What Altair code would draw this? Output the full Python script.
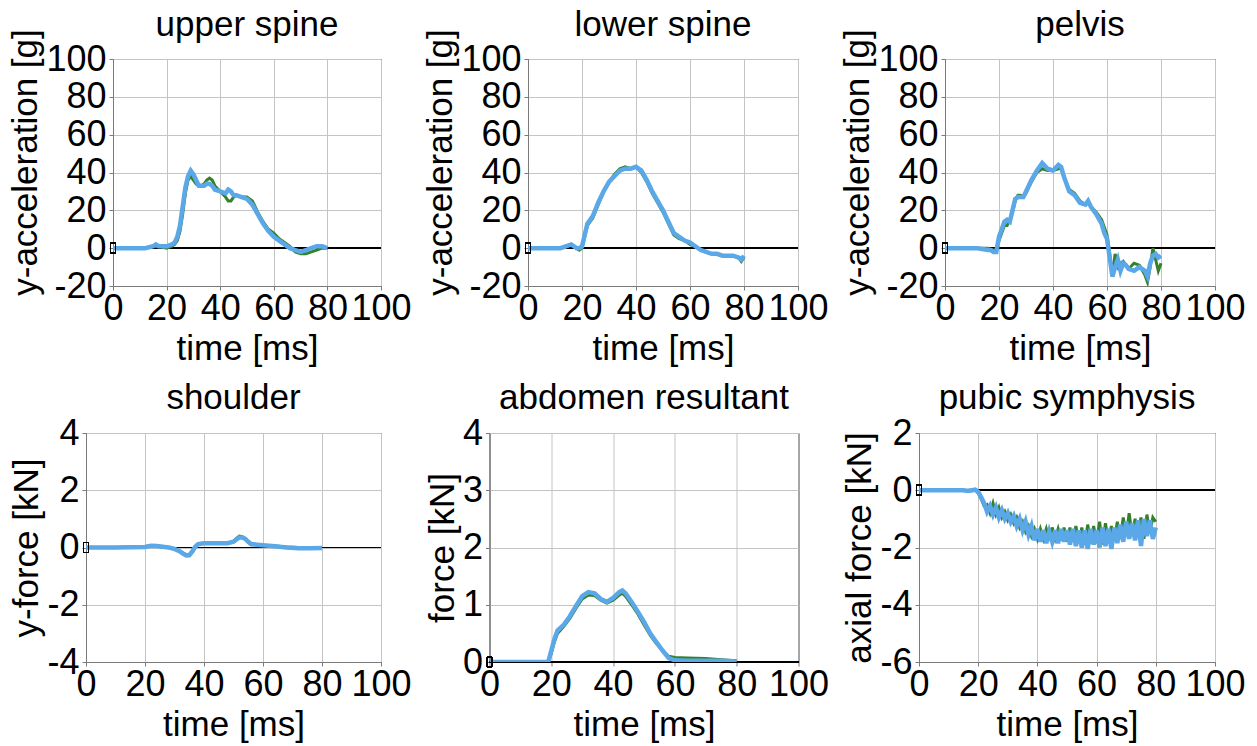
import altair as alt
import pandas as pd

FONT = "Liberation Sans"
GREEN = "#35802a"
BLUE = "#5aa8e8"

# ---------------- data ----------------
x_ticks = [0, 20, 40, 60, 80, 100]

# upper spine
t_upper = [0, 4, 8, 12, 15, 16, 17, 20, 22, 23, 24, 25, 26, 27, 28, 29, 30, 31, 32, 33,
           34, 35, 36, 37, 38, 40, 42, 43, 44, 45, 46, 48, 50, 52, 54, 56, 58, 60, 62, 64,
           66, 68, 70, 72, 74, 76, 78, 80]
upper_blue = [0, 0, 0, 0, 1, 2, 1, 1, 2, 3, 6, 12, 22, 32, 38, 41, 39, 36, 33, 33,
              33, 34, 34, 33, 31, 30, 29, 31, 30, 28, 28, 27, 26, 23, 18, 13, 9, 6, 4, 2,
              0, -1, -2, -1, 0, 1, 1, 0]
upper_green = [0, 0, 0, 0, 1, 1, 1, 0, 1, 2, 4, 9, 18, 29, 36, 38, 36, 34, 33, 33,
               34, 36, 37, 36, 33, 30, 27, 25, 25, 27, 28, 27, 27, 25, 19, 14, 10, 8, 5, 3,
               1, -2, -3, -3, -2, -1, 0, 0]

# lower spine
t_lower = [0, 4, 8, 12, 14, 16, 17, 18, 19, 20, 21, 22, 24, 26, 28, 30, 32, 34, 36, 38,
           40, 42, 44, 46, 48, 50, 52, 54, 56, 58, 60, 62, 64, 66, 68, 70, 72, 74, 76, 78,
           79, 80]
lower_blue = [0, 0, 0, 0, 1, 2, 1, 0, 0, 1, 7, 13, 17, 24, 30, 35, 38, 41, 42, 42,
              43, 41, 36, 30, 25, 20, 14, 8, 6, 4, 3, 1, -1, -2, -3, -3, -4, -4, -4, -5,
              -6, -4]
lower_green = [0, 0, 0, 0, 1, 2, 1, 0, -1, 0, 6, 12, 16, 23, 30, 35, 39, 42, 43, 42,
               43, 40, 35, 29, 24, 19, 13, 7, 5, 4, 2, 1, -1, -2, -3, -3, -4, -4, -4, -5,
               -7, -5]

# pelvis
t_pelvis = [0, 4, 8, 12, 16, 17, 18, 19, 20, 21, 22, 23, 24, 25, 26, 27, 28, 29, 30, 32,
            34, 36, 38, 40, 42, 43, 44, 46, 48, 50, 52, 53, 54, 56, 58, 59, 60, 61, 62, 63,
            64, 65, 66, 67, 68, 70, 72, 74, 75, 76, 77, 78, 79, 80]
pelvis_blue = [0, 0, 0, 0, -1, -1, -2, -2, 6, 10, 14, 15, 14, 20, 26, 27, 27, 27, 30, 36,
               41, 45, 42, 41, 44, 43, 38, 30, 28, 24, 23, 25, 22, 18, 13, 8, 5, -5, -15, -10,
               -6, -12, -8, -9, -11, -12, -10, -12, -15, -8, -4, -3, -5, -4]
pelvis_green = [0, 0, 0, 0, 0, -1, -1, -1, 4, 8, 12, 12, 15, 19, 25, 28, 28, 27, 29, 35,
                40, 42, 41, 41, 42, 42, 38, 31, 29, 25, 23, 24, 22, 19, 15, 11, 7, -3, -15, -3,
                -10, -8, -7, -9, -11, -8, -9, -14, -18, -10, 0, -6, -12, -8]

# shoulder
t_shoulder = [0, 10, 20, 22, 24, 28, 30, 32, 33, 34, 35, 36, 37, 38, 40, 44, 48, 50, 51, 52,
              53, 54, 55, 56, 58, 60, 64, 68, 72, 76, 80]
shoulder_blue = [0, 0, 0.02, 0.06, 0.05, 0.0, -0.05, -0.15, -0.22, -0.28,
                 -0.27, -0.15, 0.02, 0.12, 0.15, 0.15, 0.15, 0.2, 0.28, 0.35,
                 0.35, 0.3, 0.2, 0.12, 0.1, 0.08, 0.04, 0.0, -0.03, -0.03, -0.02]
shoulder_green = [0, 0, 0.03, 0.07, 0.05, 0.0, -0.05, -0.13, -0.2, -0.25,
                  -0.24, -0.12, 0.03, 0.13, 0.15, 0.16, 0.16, 0.22, 0.32, 0.4,
                  0.38, 0.3, 0.18, 0.1, 0.1, 0.08, 0.05, 0.02, 0.0, -0.01, -0.01]

# abdomen resultant
t_abdomen = [0, 10, 19, 20, 21, 22, 24, 26, 28, 30, 32, 34, 36, 38, 40, 42, 43, 44, 46, 48,
             50, 52, 54, 56, 58, 60, 64, 70, 75, 80]
abdomen_blue = [0, 0, 0, 0.2, 0.4, 0.55, 0.65, 0.8, 0.98, 1.15,
                1.22, 1.2, 1.1, 1.05, 1.12, 1.22, 1.25, 1.2, 1.05, 0.88,
                0.7, 0.5, 0.35, 0.2, 0.07, 0.03, 0.02, 0.02, 0.02, 0.01]
abdomen_green = [0, 0, 0, 0.15, 0.35, 0.5, 0.62, 0.76, 0.94, 1.1,
                 1.17, 1.16, 1.08, 1.03, 1.08, 1.17, 1.2, 1.15, 1.0, 0.84,
                 0.65, 0.47, 0.32, 0.2, 0.1, 0.08, 0.07, 0.06, 0.04, 0.02]

# pubic symphysis (1 ms samples, 0..80)
t_pubic = list(range(0, 81))
pubic_blue = [0, 0, 0, 0, 0, 0, 0, 0, 0, 0,
              0, 0, 0, 0, 0, 0, -0.02, -0.02, 0, 0.02,
              -0.05, -0.25, -0.45, -0.75, -0.55, -0.85, -0.6, -0.95, -0.7, -1.0,
              -0.8, -1.1, -0.9, -1.25, -1.0, -1.4, -1.1, -1.55, -1.25, -1.75,
              -1.35, -1.8, -1.4, -1.85, -1.45, -1.8, -1.4, -1.85, -1.35, -1.8,
              -1.4, -1.9, -1.35, -1.95, -1.4, -2.0, -1.4, -2.05, -1.35, -1.9,
              -1.4, -2.0, -1.3, -1.95, -1.35, -2.05, -1.3, -1.85, -1.2, -1.8,
              -1.1, -1.7, -1.15, -1.75, -1.05, -1.95, -1.0, -1.6, -1.05, -1.7,
              -1.3]
pubic_green = [0, 0, 0, 0, 0, 0, 0, 0, 0, 0,
               0, 0, 0, 0, 0, 0, -0.02, 0, 0, 0,
               -0.1, -0.3, -0.55, -0.5, -0.8, -0.45, -0.85, -0.6, -0.95, -0.75,
               -1.05, -0.85, -1.15, -0.95, -1.3, -1.1, -1.45, -1.25, -1.6, -1.35,
               -1.7, -1.35, -1.7, -1.35, -1.75, -1.3, -1.7, -1.35, -1.75, -1.3,
               -1.8, -1.3, -1.8, -1.25, -1.85, -1.3, -1.9, -1.2, -1.85, -1.25,
               -1.85, -1.1, -1.9, -1.15, -1.85, -1.25, -1.75, -1.1, -1.7, -0.95,
               -1.6, -0.8, -1.6, -1.0, -1.55, -0.95, -1.7, -0.85, -1.5, -0.95,
               -1.1]

panels = [
    # title, y title, domain, ticks, t, green, blue, width, height, titleY, title offset
    ("upper spine", "y-acceleration [g]", [-20, 100], [-20, 0, 20, 40, 60, 80, 100],
     t_upper, upper_green, upper_blue, 268, 227, 103, -14),
    ("lower spine", "y-acceleration [g]", [-20, 100], [-20, 0, 20, 40, 60, 80, 100],
     t_lower, lower_green, lower_blue, 270, 227, 103, -14),
    ("pelvis", "y-acceleration [g]", [-20, 100], [-20, 0, 20, 40, 60, 80, 100],
     t_pelvis, pelvis_green, pelvis_blue, 270, 227, 103, -14),
    ("shoulder", "y-force [kN]", [-4, 4], [-4, -2, 0, 2, 4],
     t_shoulder, shoulder_green, shoulder_blue, 295, 229, None, -1),
    ("abdomen resultant", "force [kN]", [0, 4], [0, 1, 2, 3, 4],
     t_abdomen, abdomen_green, abdomen_blue, 309, 229, None, -1),
    ("pubic symphysis", "axial force [kN]", [-6, 2], [-6, -4, -2, 0, 2],
     t_pubic, pubic_green, pubic_blue, 296, 229, None, -1),
]

BOX = "M-0.5,-1L0.5,-1L0.5,1L-0.5,1Z"
LABEL = "'' + datum.value"


def make_panel(title, ytitle, ydom, yticks, t, g, b, w, h, ty, toff):
    df = pd.DataFrame({"t": t, "g": g, "b": b})
    xs = alt.Scale(domain=[0, 100], nice=False, zero=False)
    ys = alt.Scale(domain=ydom, nice=False, zero=False)
    xa = alt.Axis(values=x_ticks, title="time [ms]", labelExpr=LABEL)
    if ty is None:
        ya = alt.Axis(values=yticks, title=ytitle, labelExpr=LABEL)
    else:
        ya = alt.Axis(values=yticks, title=ytitle, labelExpr=LABEL, titleY=ty)
    base = alt.Chart(df)
    zero = base.mark_rule(color="black", strokeWidth=1).encode(
        y=alt.YDatum(0, scale=ys, axis=ya, title=ytitle)
    )
    green = base.mark_line(color=GREEN, strokeWidth=3, clip=True).encode(
        x=alt.X("t:Q", scale=xs, axis=xa, title="time [ms]"),
        y=alt.Y("g:Q", scale=ys, axis=ya, title=ytitle),
    )
    blue = base.mark_line(color=BLUE, strokeWidth=4.5, clip=True).encode(
        x=alt.X("t:Q", scale=xs, axis=xa, title="time [ms]"),
        y=alt.Y("b:Q", scale=ys, axis=ya, title=ytitle),
    )
    marker = base.mark_point(shape=BOX, filled=False, color="black", size=100,
                             strokeWidth=1).encode(
        x=alt.XDatum(0, scale=xs, axis=xa, title="time [ms]"),
        y=alt.YDatum(0, scale=ys, axis=ya, title=ytitle),
    )
    return alt.layer(zero, green, blue, marker).properties(
        width=w, height=h,
        title=alt.TitleParams(title, fontSize=35, font=FONT, fontWeight="normal",
                              anchor="middle", frame="group", offset=toff, color="black"),
    )


def spacer(w):
    return alt.Chart(pd.DataFrame({"a": [0]})).mark_point(opacity=0, size=0).encode(
        x=alt.value(w / 2), y=alt.value(0.5)
    ).properties(width=w, height=1, view={"stroke": "transparent"})


charts = [make_panel(*p) for p in panels]

row1 = alt.hconcat(
    alt.hconcat(spacer(6), charts[0], spacing=0, bounds="full"),
    charts[1], charts[2], spacing=11, bounds="full",
)
row2 = alt.hconcat(
    alt.hconcat(spacer(7), charts[3], spacing=0, bounds="full"),
    charts[4], charts[5], spacing=12.5, bounds="full",
)

chart = alt.vconcat(row1, row2, spacing=13, bounds="full").properties(
    padding={"left": 0, "top": 7, "right": 2, "bottom": 0}
).configure_view(
    stroke="#111111", strokeWidth=1
).configure_axis(
    labelFont=FONT, titleFont=FONT, labelFontSize=36, titleFontSize=35,
    titleFontWeight="normal", labelColor="black", titleColor="black",
    grid=True, gridColor="#c4c4c4", gridWidth=1,
    domainColor="#7a7a7a", tickColor="#7a7a7a", tickSize=4,
    labelFlush=False, labelOverlap=False,
).configure_axisX(
    labelPadding=1, titlePadding=5
).configure_axisY(
    labelPadding=3, titlePadding=2
)

chart.save("out.html", embed_options={"renderer": "svg", "actions": False})
